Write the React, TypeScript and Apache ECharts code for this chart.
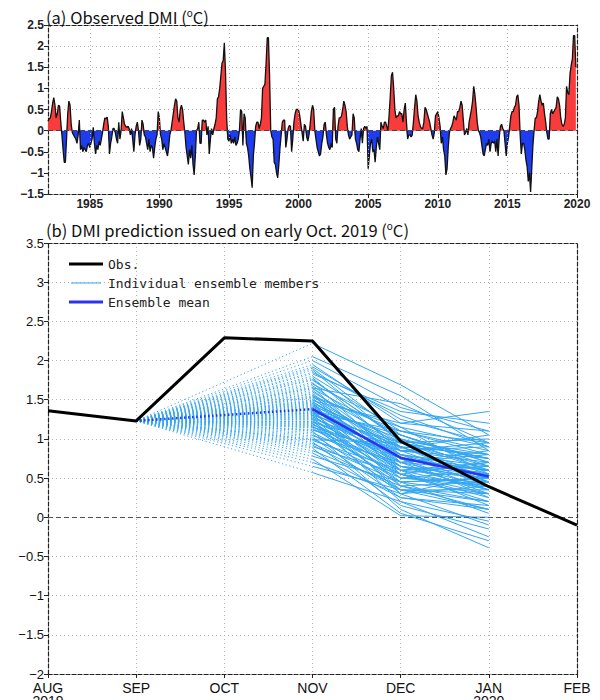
import React, { useEffect, useRef } from "react";
import * as echarts from "echarts";

// ---------- Panel (a): observed monthly DMI, Jan 1982 – Dec 2019 ----------
const dmiStartYear = 1982;
const dmiMonthly: number[] = [
  0.22, 0.28, 0.3, 0.45, 0.65, 0.78, 0.6, 0.3, 0.4, 0.6, 0.58, 0.2, // 1982
  -0.1, -0.45, -0.75, -0.75, -0.2, 0.4, 0.7, 0.6, 0.15, -0.05, -0.1, -0.15, // 1983
  -0.2, -0.3, -0.1, 0.25, -0.45, -0.35, -0.5, -0.4, -0.45, -0.5, -0.35, -0.3, // 1984
  -0.4, -0.3, -0.2, 0.08, -0.3, -0.55, -0.35, -0.45, -0.25, -0.35, -0.2, -0.05, // 1985
  0.15, 0.3, 0.28, 0.32, 0.1, -0.55, -0.3, -0.15, 0.05, 0.05, -0.05, -0.2, // 1986
  -0.3, 0.2, -0.2, 0.0, 0.45, 0.3, 0.15, 0.1, 0.08, 0.1, 0.05, -0.1, // 1987
  0.05, -0.2, -0.5, -0.1, 0.1, 0.2, 0.0, -0.35, -0.2, 0.25, 0.15, -0.1, // 1988
  -0.15, -0.3, -0.45, -0.2, -0.5, -0.35, -0.4, -0.65, -0.4, -0.2, -0.1, 0.45, // 1989
  0.3, -0.1, -0.2, -0.45, -0.3, -0.4, -0.5, -0.6, -0.4, -0.1, 0.0, 0.2, // 1990
  0.4, 0.6, 0.75, 0.7, 0.3, 0.2, 0.5, 0.6, 0.5, 0.2, -0.05, -0.4, // 1991
  -0.6, -0.8, -0.45, -0.65, -0.35, -0.8, -1.05, -0.6, 0.0, 0.05, 0.2, -0.3, // 1992
  -0.3, 0.25, 0.25, 0.2, 0.25, -0.1, 0.1, -0.55, -0.2, 0.05, -0.1, 0.05, // 1993
  0.15, 0.3, 0.75, 0.8, 1.0, 1.3, 1.6, 1.65, 2.08, 1.4, 0.3, -0.2, // 1994
  -0.25, -0.1, -0.3, -0.2, -0.3, -0.15, -0.35, -0.3, -0.2, 0.0, 0.5, 0.45, // 1995
  -0.35, 0.4, 0.3, -0.3, -0.4, -0.6, -0.9, -1.1, -1.35, -0.6, -0.3, 0.1, // 1996
  0.2, 0.2, 0.05, 0.15, 0.3, 1.0, 1.05, 1.1, 1.6, 2.2, 2.2, 1.3, // 1997
  0.0, -0.15, -0.2, -0.75, -0.8, -1.0, -1.12, -0.8, -0.4, -0.1, 0.2, 0.25, // 1998
  0.25, -0.4, -0.2, 0.05, 0.12, 0.1, -0.5, -0.2, 0.2, 0.4, 0.5, 0.5, // 1999
  0.5, 0.35, 0.15, -0.05, -0.25, 0.15, 0.1, -0.15, -0.25, -0.1, 0.15, 0.45, // 2000
  0.6, 0.5, 0.0, -0.2, -0.4, -0.5, -0.6, -0.55, -0.3, -0.15, 0.15, 0.2, // 2001
  -0.1, -0.3, -0.4, -0.45, -0.3, -0.4, 0.5, 0.55, -0.2, -0.3, 0.1, 0.3, // 2002
  0.3, 0.35, 0.5, 0.7, 0.6, 0.45, 0.1, -0.1, -0.2, -0.15, -0.1, 0.4, // 2003
  0.3, -0.2, -0.3, -0.45, -0.5, -0.2, 0.05, -0.3, 0.05, 0.1, 0.05, 0.1, // 2004
  -0.9, -0.6, -0.3, -0.2, -0.5, -0.45, -0.75, -0.4, -0.15, -0.3, -0.45, 0.2, // 2005
  0.1, 0.05, 0.2, 0.2, 0.1, 0.0, 0.35, 0.8, 1.3, 1.38, 1.0, 0.5, // 2006
  0.3, 0.35, 0.35, 0.45, 0.4, 0.4, 0.2, 0.5, 0.65, 0.2, -0.2, -0.1, // 2007
  -0.1, -0.15, -0.1, 0.2, 0.55, 0.85, 0.7, 0.35, 0.2, 0.1, 0.05, 0.05, // 2008
  0.2, 0.55, 0.5, 0.4, 0.3, 0.2, 0.05, -0.1, -0.2, -0.05, 0.35, 0.4, // 2009
  0.45, 0.3, 0.1, -0.3, -0.15, -0.45, -0.6, -1.05, -0.9, -0.4, -0.05, 0.05, // 2010
  0.1, 0.2, 0.35, 0.3, 0.25, 0.45, 0.45, 0.55, 0.7, 0.6, 0.25, -0.1, // 2011
  -0.05, 0.05, -0.1, 0.2, 0.35, 0.5, 0.7, 1.05, 0.85, 0.55, 0.2, 0.0, // 2012
  -0.05, -0.15, -0.35, -0.55, -0.6, -0.45, -0.3, -0.35, -0.2, -0.5, -0.3, -0.25, // 2013
  -0.3, -0.25, -0.5, -0.2, -0.6, -0.15, 0.1, 0.15, 0.05, 0.0, -0.3, -0.6, // 2014
  -0.3, -0.15, 0.1, 0.35, 0.45, 0.45, 0.55, 0.6, 0.8, 0.85, 0.6, -0.1, // 2015
  -0.55, -0.3, -0.3, -0.45, -0.7, -0.85, -1.2, -1.0, -1.45, -0.9, -0.35, 0.0, // 2016
  0.3, 0.3, 0.45, 0.7, 0.85, 0.7, 0.6, 0.65, 0.4, 0.2, -0.05, -0.2, // 2017
  -0.2, 0.4, 0.5, 0.4, 0.45, 0.5, 0.55, 0.8, 0.75, 0.6, 0.3, 0.15, // 2018
  0.1, 0.15, 0.3, 1.05, 0.9, 0.85, 1.35, 1.55, 1.7, 2.25, 2.25, 1.5, // 2019
];
const topYearTicks = [1985, 1990, 1995, 2000, 2005, 2010, 2015, 2020];

// ---------- Panel (b): prediction issued early Oct 2019 ----------
const predMonthLabels = ["AUG\n2019", "SEP", "OCT", "NOV", "DEC", "JAN\n2020", "FEB"];
const obsPred = [1.36, 1.23, 2.29, 2.25, 0.97, 0.39, -0.1]; // AUG..FEB
const ensMean = [1.38, 0.76, 0.52]; // NOV, DEC, JAN
const memberNov = [
  2.22, 2.05, 1.95, 1.9, 1.88, 1.85, 1.8, 1.78, 1.75, 1.72, 1.7, 1.68, 1.66, 1.64, 1.62,
  1.6, 1.58, 1.57, 1.55, 1.54, 1.52, 1.5, 1.49, 1.48, 1.46, 1.45, 1.44, 1.43, 1.42, 1.41,
  1.4, 1.39, 1.38, 1.37, 1.36, 1.35, 1.34, 1.33, 1.32, 1.31, 1.3, 1.29, 1.28, 1.27, 1.26,
  1.25, 1.24, 1.23, 1.22, 1.21, 1.2, 1.19, 1.18, 1.17, 1.16, 1.15, 1.14, 1.12, 1.1, 1.08,
  1.06, 1.04, 1.02, 1.0, 0.98, 0.96, 0.94, 0.92, 0.9, 0.88, 0.85, 0.82, 0.78, 0.74, 0.7,
  0.65, 0.57, 2.0, 1.92, 1.83, 1.76, 1.65, 1.53, 1.47, 1.33, 1.11, 0.99,
];
const memberDec = [
  1.69, 1.55, 1.2, 1.05, 0.95, 1.3, 1.1, 0.85, 1.0, 0.7, 1.15, 0.9, 0.6, 1.05, 0.8,
  0.95, 0.75, 0.55, 1.1, 0.85, 0.65, 0.9, 1.2, 0.7, 0.4, 0.95, 0.8, 0.6, 1.0, 0.75,
  0.5, 0.85, 0.65, 1.05, 0.3, 0.9, 0.7, 0.55, 0.8, 0.45, 0.95, 0.6, 0.75, 0.35, 0.85,
  0.65, 0.2, 0.7, 0.5, 0.9, 0.4, 0.6, 0.75, 0.3, 0.55, 0.8, 0.45, 0.65, 0.1, 0.55,
  0.35, 0.7, 0.25, 0.5, 0.6, 0.15, 0.45, 0.35, 0.55, 0.05, 0.4, 0.25, 0.45, 0.02, 0.3,
  0.35, 0.2, 1.4, 1.25, 1.35, 0.98, 1.45, 1.15, 0.88, 1.1, 0.85, 0.95,
];
const memberJan = [
  1.05, 0.85, 1.35, 0.7, 0.6, 0.9, 0.95, 0.45, 0.75, 0.3, 0.55, 0.8, 0.5, 0.65, 0.4,
  1.0, 0.6, 0.2, 0.85, 0.7, 0.35, 0.55, 1.1, 0.45, 0.1, 0.75, 0.5, 0.65, 0.6, 0.25,
  0.4, 0.9, 0.55, 0.7, -0.1, 0.45, 0.8, 0.3, 0.6, 0.5, 0.65, 0.15, 0.55, 0.35, 0.75,
  0.4, -0.25, 0.6, 0.45, 0.5, 0.2, 0.7, 0.35, 0.55, 0.25, 0.65, 0.05, 0.5, -0.39, 0.4,
  0.3, 0.85, 0.1, 0.6, 0.35, -0.15, 0.5, 0.2, 0.7, -0.3, 0.45, 0.15, 0.3, 0.0, 0.4,
  0.1, -0.05, 1.1, 0.95, 1.2, 0.8, 0.95, 0.9, 1.05, 0.8, 0.95, 0.75,
];

const MEMBERS = "Individual ensemble members";
const MEAN = "Ensemble mean";
const OBS = "Obs.";
const memberColor = "#33a6f2";
const meanColor = "#2a34f0";
const frameStyle = { color: "#222", width: 1.2, type: [4, 2] as number[] };
const gridDot = { color: "#b4b4b4", width: 1, type: [1, 3] as number[] };
const minus = (v: number) => String(v).replace("-", "\u2212");

function buildOption() {
  const pts = dmiMonthly.map((v, i) => [dmiStartYear + i / 12, v]);
  const aug: number[][] = [];
  for (let i = 0; i < pts.length; i++) {
    aug.push(pts[i]);
    if (i < pts.length - 1) {
      const [t0, v0] = pts[i];
      const [t1, v1] = pts[i + 1];
      if ((v0 > 0 && v1 < 0) || (v0 < 0 && v1 > 0)) {
        aug.push([t0 + ((t1 - t0) * v0) / (v0 - v1), 0]);
      }
    }
  }
  const pos = aug.map(([t, v]) => [t, Math.max(v, 0)]);
  const neg = aug.map(([t, v]) => [t, Math.min(v, 0)]);

  const titleFont = "'Noto Sans CJK JP', 'Noto Sans', sans-serif";
  const supRich = {
    s: { fontSize: 10, lineHeight: 12, verticalAlign: "top", fontFamily: titleFont, color: "#111" },
  };
  const thinIcon = "path://M0,0h0.01v0.01h-0.01z M0,1.2h34v1h-34z M33.99,3.39h0.01v0.01h-0.01z";

  return {
    animation: false,
    backgroundColor: "#fff",
    title: [
      {
        text: "(a) Observed DMI ({s|o}C)",
        left: 46,
        top: 7,
        padding: 0,
        textStyle: { fontFamily: titleFont, fontSize: 16.5, fontWeight: "normal", color: "#111", lineHeight: 19, rich: supRich },
      },
      {
        text: "(b) DMI prediction issued on early Oct. 2019 ({s|o}C)",
        left: 46,
        top: 220,
        padding: 0,
        textStyle: { fontFamily: titleFont, fontSize: 16.5, fontWeight: "normal", color: "#111", lineHeight: 19, rich: supRich },
      },
    ],
    legend: {
      orient: "vertical",
      left: 64,
      top: 250,
      itemWidth: 34,
      itemHeight: 3,
      itemGap: 1,
      selectedMode: false,
      textStyle: { fontFamily: "'DejaVu Sans Mono', monospace", fontSize: 13, color: "#222", lineHeight: 18 },
      data: [
        { name: OBS, icon: "rect", itemStyle: { color: "#000", borderWidth: 0 }, lineStyle: { width: 0 } },
        { name: MEMBERS, icon: thinIcon, itemStyle: { color: memberColor, borderWidth: 0 }, lineStyle: { width: 0 } },
        { name: MEAN, icon: "rect", itemStyle: { color: meanColor, borderWidth: 0 }, lineStyle: { width: 0 } },
      ],
    },
    grid: [
      { left: 48, right: 23, top: 25, height: 169, outerBoundsMode: "none" },
      { left: 48, right: 23, top: 243, height: 431, outerBoundsMode: "none" },
    ],
    xAxis: [
      {
        type: "value",
        gridIndex: 0,
        min: 1982,
        max: 2020,
        axisLine: { show: true, onZero: false, lineStyle: frameStyle },
        axisTick: { show: true, customValues: topYearTicks, length: 4, lineStyle: { color: "#222" } },
        axisLabel: {
          customValues: topYearTicks,
          formatter: (v: number) => String(v),
          fontFamily: "'Liberation Sans', Arial, sans-serif",
          fontWeight: "bold",
          fontSize: 12,
          color: "#222",
          margin: 4,
        },
        splitLine: { show: false },
      },
      {
        type: "value",
        gridIndex: 0,
        position: "top",
        min: 1982,
        max: 2020,
        axisLine: { show: true, onZero: false, lineStyle: frameStyle },
        axisTick: { show: false },
        axisLabel: { show: false },
        splitLine: { show: false },
      },
      {
        type: "value",
        gridIndex: 1,
        min: 0,
        max: 6,
        interval: 1,
        axisLine: { show: true, onZero: false, lineStyle: frameStyle },
        axisTick: { show: true, length: 4, lineStyle: { color: "#222" } },
        axisLabel: {
          formatter: (v: number) => predMonthLabels[v] ?? "",
          fontFamily: "'Liberation Sans Narrow', 'Liberation Sans', Arial, sans-serif",
          fontSize: 14,
          lineHeight: 13,
          color: "#111",
          margin: 7,
          showMinLabel: true,
          showMaxLabel: true,
        },
        splitLine: { show: true, lineStyle: gridDot },
      },
      {
        type: "value",
        gridIndex: 1,
        position: "top",
        min: 0,
        max: 6,
        interval: 1,
        axisLine: { show: true, onZero: false, lineStyle: frameStyle },
        axisTick: { show: false },
        axisLabel: { show: false },
        splitLine: { show: false },
      },
    ],
    yAxis: [
      {
        type: "value",
        gridIndex: 0,
        min: -1.5,
        max: 2.5,
        interval: 0.5,
        axisLine: { show: true, onZero: false, lineStyle: frameStyle },
        axisTick: { show: true, length: 4, lineStyle: { color: "#222" } },
        axisLabel: {
          formatter: minus,
          fontFamily: "'Liberation Sans', Arial, sans-serif",
          fontWeight: "bold",
          fontSize: 12,
          color: "#222",
          margin: 4,
        },
        splitLine: { show: true, lineStyle: gridDot },
      },
      {
        type: "value",
        gridIndex: 0,
        position: "right",
        min: -1.5,
        max: 2.5,
        interval: 0.5,
        axisLine: { show: true, onZero: false, lineStyle: frameStyle },
        axisTick: { show: false },
        axisLabel: { show: false },
        splitLine: { show: false },
      },
      {
        type: "value",
        gridIndex: 1,
        min: -2,
        max: 3.5,
        interval: 0.5,
        axisLine: { show: true, onZero: false, lineStyle: frameStyle },
        axisTick: { show: true, length: 4, lineStyle: { color: "#222" } },
        axisLabel: {
          formatter: minus,
          fontFamily: "'Liberation Sans', Arial, sans-serif",
          fontSize: 13,
          lineHeight: 12,
          color: "#111",
          margin: 4,
        },
        splitLine: { show: true, lineStyle: gridDot },
      },
      {
        type: "value",
        gridIndex: 1,
        position: "right",
        min: -2,
        max: 3.5,
        interval: 0.5,
        axisLine: { show: true, onZero: false, lineStyle: frameStyle },
        axisTick: { show: false },
        axisLabel: { show: false },
        splitLine: { show: false },
      },
    ],
    series: [
      {
        type: "line",
        name: "positive",
        xAxisIndex: 0,
        yAxisIndex: 0,
        data: pos,
        symbol: "none",
        silent: true,
        lineStyle: { opacity: 0 },
        areaStyle: { color: "#f83c3c", opacity: 1 },
        markLine: {
          silent: true,
          symbol: "none",
          label: { show: false },
          lineStyle: gridDot,
          data: topYearTicks.filter((y) => y < 2020).map((y) => ({ xAxis: y })),
        },
        z: 2,
      },
      {
        type: "line",
        name: "negative",
        xAxisIndex: 0,
        yAxisIndex: 0,
        data: neg,
        symbol: "none",
        silent: true,
        lineStyle: { opacity: 0 },
        areaStyle: { color: "#1e3cf0", opacity: 1 },
        z: 2,
      },
      {
        type: "line",
        name: "DMI",
        xAxisIndex: 0,
        yAxisIndex: 0,
        data: pts,
        symbol: "none",
        silent: true,
        lineStyle: { color: "#111", width: 1.3 },
        markLine: {
          silent: true,
          symbol: "none",
          label: { show: false },
          lineStyle: { color: "#444", width: 1, type: [5, 3] },
          data: [{ yAxis: 0 }],
        },
        z: 3,
      },
      // panel b
      {
        type: "lines",
        name: MEMBERS,
        coordinateSystem: "cartesian2d",
        xAxisIndex: 2,
        yAxisIndex: 2,
        silent: true,
        data: memberNov.map((v) => ({ coords: [[1, obsPred[1]], [3, v]] })),
        lineStyle: { color: memberColor, width: 1, type: [1.2, 2.6], opacity: 1 },
        z: 3,
      },
      {
        type: "lines",
        name: MEMBERS,
        coordinateSystem: "cartesian2d",
        xAxisIndex: 2,
        yAxisIndex: 2,
        polyline: true,
        silent: true,
        data: memberNov.map((v, i) => ({ coords: [[3, v], [4, memberDec[i]], [5, memberJan[i]]] })),
        lineStyle: { color: memberColor, width: 1, opacity: 1 },
        z: 3,
      },
      {
        type: "line",
        name: MEAN,
        xAxisIndex: 2,
        yAxisIndex: 2,
        symbol: "none",
        silent: true,
        data: [[1, obsPred[1]], [3, ensMean[0]]],
        lineStyle: { color: meanColor, width: 2.5, type: [1.5, 2.5] },
        itemStyle: { color: meanColor },
        z: 4,
      },
      {
        type: "line",
        name: MEAN,
        xAxisIndex: 2,
        yAxisIndex: 2,
        symbol: "none",
        silent: true,
        data: ensMean.map((v, i) => [3 + i, v]),
        lineStyle: { color: meanColor, width: 2.5 },
        itemStyle: { color: meanColor },
        z: 4,
      },
      {
        type: "line",
        name: OBS,
        xAxisIndex: 2,
        yAxisIndex: 2,
        symbol: "none",
        silent: true,
        data: obsPred.map((v, i) => [i, v]),
        lineStyle: { color: "#000", width: 3 },
        itemStyle: { color: "#000" },
        markLine: {
          silent: true,
          symbol: "none",
          label: { show: false },
          lineStyle: { color: "#555", width: 1, type: [5, 3] },
          data: [{ yAxis: 0 }],
        },
        z: 5,
      },
    ],
  };
}

export default function App() {
  const ref = useRef<HTMLDivElement>(null);
  useEffect(() => {
    if (!ref.current) return;
    const chart = echarts.init(ref.current, undefined, { renderer: "svg" });
    chart.setOption(buildOption() as any);
    return () => chart.dispose();
  }, []);
  return (
    <div
      ref={ref}
      style={{ position: "absolute", left: 0, top: 0, width: 600, height: 700, background: "#fff" }}
    />
  );
}
